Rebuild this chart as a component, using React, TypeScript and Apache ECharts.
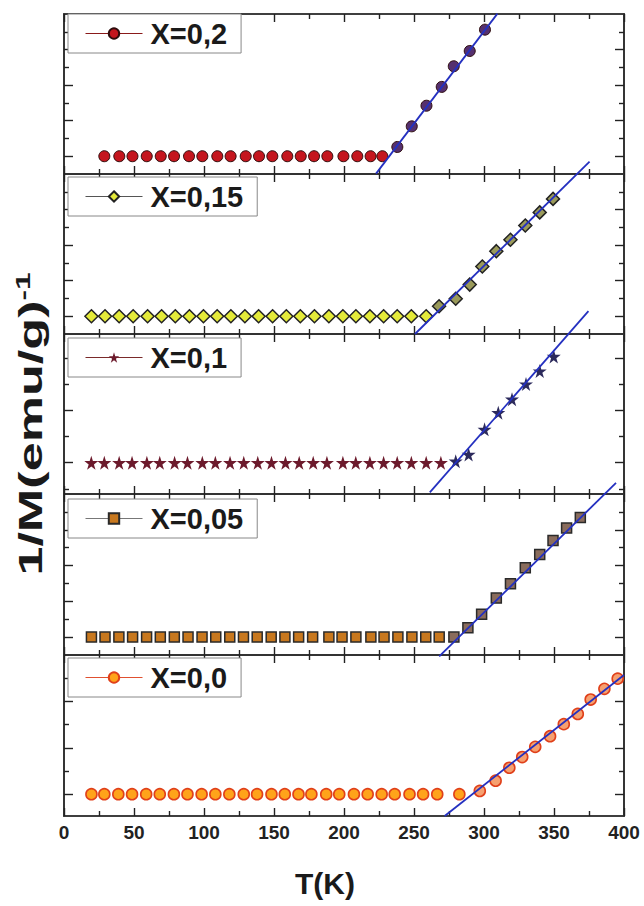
import React, { useEffect, useRef } from 'react';
import * as echarts from 'echarts';

const FONT = '"Liberation Sans", Arial, Helvetica, sans-serif';

// ---- Data: temperature T (K) and 1/M in panel units (one unit = one major tick) ----
// X = 0,2
const x02Flat = [
  [28.8, 0], [39.5, 0], [48.9, 0], [59.1, 0], [69.1, 0], [78.6, 0], [89.3, 0], [98.8, 0],
  [109.5, 0], [119, 0], [129.8, 0], [139.3, 0], [148.8, 0], [159.5, 0], [169.1, 0], [178.6, 0],
  [188.1, 0], [199.6, 0], [209.5, 0], [219, 0], [227.4, 0],
];
const x02Rise = [[238.1, 0.26], [248.4, 0.84], [258.9, 1.42], [269.8, 1.95], [278.4, 2.53], [289.8, 2.96], [300.7, 3.56]];
const x02Fit = [[222.9, -0.49], [309.6, 4.01]];

// X = 0,15
const x015Flat = [
  [19.6, 0], [29.3, 0], [39.4, 0], [49.4, 0], [59.7, 0], [69.7, 0], [79.5, 0], [89.6, 0], [99.6, 0],
  [109.4, 0], [119.2, 0], [129.2, 0], [139, 0], [149, 0], [158.8, 0], [168.8, 0], [178.9, 0],
  [189.2, 0], [199.2, 0], [208.5, 0], [218.5, 0], [228.3, 0], [238, 0], [248.1, 0], [258.7, 0],
];
const x015Rise = [[267.9, 0.28], [279.8, 0.49], [289.8, 0.89], [298.8, 1.4], [308.8, 1.83], [318.9, 2.15], [329.5, 2.55], [339.8, 2.92], [349.3, 3.3]];
const x015Fit = [[250.7, -0.5], [375.4, 4.35]];

// X = 0,1
const x01Flat = [
  [19.5, 0], [28.8, 0], [39.4, 0], [48.6, 0], [59.2, 0], [68.4, 0], [79, 0], [88.2, 0], [98.8, 0],
  [108.1, 0], [118.6, 0], [128.4, 0], [138.4, 0], [148.2, 0], [158.2, 0], [168, 0], [178, 0],
  [187.8, 0], [199.2, 0], [208.4, 0], [218.5, 0], [228.3, 0], [238, 0], [248.1, 0], [258.7, 0], [269.2, 0],
];
const x01Rise = [[279.8, 0.03], [289, 0.16], [300.4, 0.64], [310.2, 0.96], [320, 1.22], [330, 1.51], [339.8, 1.76], [349.8, 2.04]];
const x01Fit = [[261.3, -0.57], [374.6, 2.91]];

// X = 0,05
const x005Flat = [
  [19.6, 0], [29.3, 0], [39.2, 0], [49, 0], [59, 0], [68.8, 0], [78.8, 0], [88.6, 0], [98.6, 0],
  [108.4, 0], [118.4, 0], [128.2, 0], [138, 0], [148, 0], [157.8, 0], [167.6, 0], [177.6, 0],
  [189.2, 0], [198.6, 0], [208.5, 0], [219.2, 0], [228.6, 0], [238.5, 0], [248.5, 0], [258.4, 0], [268, 0],
];
const x005Rise = [[278.5, 0], [288.5, 0.26], [298.3, 0.64], [308.8, 1.09], [318.9, 1.49], [329.5, 1.94], [339.8, 2.31], [349.3, 2.7], [359, 3.05], [368.8, 3.34]];
const x005Fit = [[268, -0.54], [394.3, 4.31]];

// X = 0,0
const x00Flat = [
  [19.6, 0], [28.8, 0], [38.8, 0], [48.6, 0], [58.7, 0], [68.4, 0], [78.5, 0], [88.2, 0], [98.3, 0],
  [108.1, 0], [118.1, 0], [128.4, 0], [137.9, 0], [148.2, 0], [157.7, 0], [167.5, 0], [176.7, 0],
  [187.3, 0], [196.6, 0], [207.1, 0], [216.9, 0], [226.9, 0], [236.2, 0], [246.8, 0], [256.5, 0], [266.6, 0], [282.4, 0],
];
const x00Rise = [[297, 0.07], [308.3, 0.29], [318.1, 0.57], [327.3, 0.8], [336.6, 1.02], [347.2, 1.25], [357, 1.51], [367, 1.73], [376.2, 2.04], [386, 2.27], [395.5, 2.49]];
const x00Fit = [[271.9, -0.47], [400, 2.57]];

// Tick values
const seriesNames = ['X=0,2', 'X=0,15', 'X=0,1', 'X=0,05', 'X=0,0'];
const yMajor4 = [0, 1, 2, 3];
const yMinor4 = [0.5, 1.5, 2.5, 3.5];
const yMajor3 = [0, 1, 2];
const yMinor3 = [-0.5, 0.5, 1.5];
const yMinor5 = [0.5, 1.5, 2.5];

const STAR = 'path://M50,0 L61,35 L98,35 L68,57 L79,91 L50,70 L21,91 L32,57 L2,35 L39,35 Z';

const panels = [
  { name: seriesNames[0], flat: x02Flat, rise: x02Rise, fit: x02Fit, top: 14, height: 160, min: -0.5, max: 4.0, major: yMajor4, minor: yMinor4,
    symbol: 'circle', size: 11, fill: '#c4161e', riseFill: '#55306e', border: '#2e0c0c', bw: 1, legLine: '#8a1a1a', legTop: 14 },
  { name: seriesNames[1], flat: x015Flat, rise: x015Rise, fit: x015Fit, top: 174, height: 160, min: -0.5, max: 4.0, major: yMajor4, minor: yMinor4,
    symbol: 'diamond', size: 13, fill: '#e4ea3a', riseFill: '#9a9a5a', border: '#222', bw: 1.5, legLine: '#555', legTop: 177 },
  { name: seriesNames[2], flat: x01Flat, rise: x01Rise, fit: x01Fit, top: 334, height: 160, min: -0.6, max: 2.47, major: yMajor3, minor: yMinor3,
    symbol: STAR, size: 14, fill: '#6c1a2c', riseFill: '#2c2a5c', border: '#6c1a2c', bw: 0, legLine: '#7a2a2a', legTop: 338 },
  { name: seriesNames[3], flat: x005Flat, rise: x005Rise, fit: x005Fit, top: 494, height: 161, min: -0.5, max: 4.0, major: yMajor4, minor: yMinor4,
    symbol: 'rect', size: 10, fill: '#c8781e', riseFill: '#8a6c5c', border: '#2a2a2a', bw: 1.5, legLine: '#777', legTop: 499 },
  { name: seriesNames[4], flat: x00Flat, rise: x00Rise, fit: x00Fit, top: 655, height: 161, min: -0.47, max: 3.0, major: yMajor3, minor: yMinor5,
    symbol: 'circle', size: 11, fill: '#ffa31a', riseFill: '#f6a070', border: '#e0401a', bw: 1.6, legLine: '#e05030', legTop: 658 },
];

function buildOption() {
  const grid: any[] = [];
  const xAxis: any[] = [];
  const yAxis: any[] = [];
  const series: any[] = [];
  const legend: any[] = [];

  panels.forEach((p, i) => {
    grid.push({
      left: 64, width: 560, top: p.top, height: p.height,
      show: true, borderColor: '#333', borderWidth: 1.5, backgroundColor: 'transparent',
      containLabel: false, outerBoundsMode: 'none',
    });
    ['bottom', 'top'].forEach((pos) => {
      xAxis.push({
        gridIndex: i, type: 'value', position: pos, min: 0, max: 400, interval: 50,
        axisLine: { show: true, onZero: false, lineStyle: { color: '#333', width: 1.5 } },
        axisTick: { show: true, inside: true, length: 8, lineStyle: { color: '#222', width: 1.4 } },
        minorTick: { show: true, splitNumber: 2, length: 5, lineStyle: { color: '#222', width: 1.4 } },
        splitLine: { show: false },
        axisLabel: {
          show: i === panels.length - 1 && pos === 'bottom', margin: 7,
          fontSize: 19, fontWeight: 'bold', color: '#222', fontFamily: FONT,
        },
      });
    });
    ['left', 'right'].forEach((pos) => {
      [[p.major, 9], [p.minor, 5]].forEach(([vals, len]) => {
        yAxis.push({
          gridIndex: i, type: 'value', position: pos, min: p.min, max: p.max,
          axisLine: { show: true, onZero: false, lineStyle: { color: '#333', width: 1.5 } },
          axisTick: { show: true, inside: true, length: len, customValues: vals, lineStyle: { color: '#222', width: 1.4 } },
          axisLabel: { show: false }, splitLine: { show: false },
        });
      });
    });
    const xi = 2 * i;
    const yi = 4 * i;
    series.push({
      type: 'line', name: p.name, xAxisIndex: xi, yAxisIndex: yi, data: p.flat,
      symbol: p.symbol, symbolSize: p.size, showSymbol: true,
      lineStyle: { color: p.legLine, width: 1, opacity: 0 },
      itemStyle: { color: p.fill, borderColor: p.border, borderWidth: p.bw, opacity: 1 },
      emphasis: { disabled: true }, z: 3, silent: true,
    });
    series.push({
      type: 'line', name: p.name + ' rise', xAxisIndex: xi, yAxisIndex: yi, data: p.rise,
      symbol: p.symbol, symbolSize: p.size, showSymbol: true,
      lineStyle: { width: 1, opacity: 0 },
      itemStyle: { color: p.riseFill, borderColor: p.border, borderWidth: p.bw, opacity: 1 },
      emphasis: { disabled: true }, z: 3, silent: true,
    });
    series.push({
      type: 'line', name: p.name + ' fit', xAxisIndex: xi, yAxisIndex: yi, data: p.fit,
      symbol: 'none', clip: false,
      lineStyle: { color: '#2430c0', width: 1.8 },
      emphasis: { disabled: true }, z: 4, silent: true,
    });
    legend.push({
      data: [p.name], left: 68, top: p.legTop, orient: 'horizontal',
      itemWidth: 57, itemHeight: 13, itemGap: 0,
      padding: [5, 14, 5, 17],
      borderColor: '#888', borderWidth: 1, backgroundColor: '#fff',
      selectedMode: false,
      textStyle: { fontSize: 29, fontWeight: 'bold', color: '#1a1a1a', fontFamily: FONT, padding: [0, 0, 0, 3] },
      lineStyle: { width: 1, opacity: 1 },
    });
  });

  return {
    animation: false,
    backgroundColor: '#fff',
    grid, xAxis, yAxis, series, legend,
    graphic: [
      {
        type: 'text', x: 31, y: 424, rotation: Math.PI / 2, scaleX: 1.58,
        style: {
          text: '{a|1/M(emu/g)}{b|-1}',
          rich: {
            a: { fontSize: 33, fontWeight: 'bold', fontFamily: FONT, fill: '#1a1a1a', lineHeight: 36 },
            b: { fontSize: 20, fontWeight: 'bold', fontFamily: FONT, fill: '#1a1a1a', verticalAlign: 'top' },
          },
          align: 'center', verticalAlign: 'middle', textAlign: 'center', textVerticalAlign: 'middle',
        },
      },
      {
        type: 'text', x: 325, y: 883,
        style: {
          text: 'T(K)', fontSize: 30, fontWeight: 'bold', fontFamily: FONT, fill: '#1a1a1a',
          align: 'center', verticalAlign: 'middle', textAlign: 'center', textVerticalAlign: 'middle',
        },
      },
    ],
  };
}

export default function App() {
  const ref = useRef<HTMLDivElement>(null);
  useEffect(() => {
    if (!ref.current) return;
    const chart = echarts.init(ref.current, null, { renderer: 'svg' });
    chart.setOption(buildOption() as any);
    return () => chart.dispose();
  }, []);
  return (
    <div
      ref={ref}
      style={{ position: 'fixed', left: 0, top: 0, width: 644, height: 906, background: '#fff' }}
    />
  );
}
